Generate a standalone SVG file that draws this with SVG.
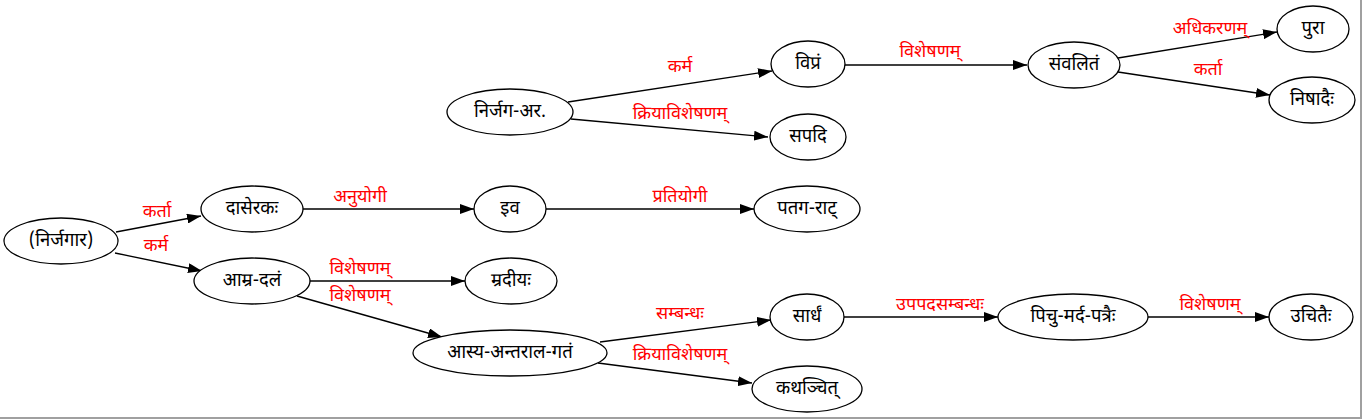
<svg xmlns="http://www.w3.org/2000/svg" width="1362" height="419" viewBox="0 0 1362 419">
<style>
.n ellipse{fill:#fff;stroke:#000;stroke-width:1.3}
.n text{font-family:"Noto Sans Devanagari","Lohit Devanagari","FreeSans","Noto Sans","DejaVu Sans",sans-serif;font-size:18.5px;fill:#000;text-anchor:middle;dominant-baseline:central}
.e line{stroke:#000;stroke-width:1.3;marker-end:url(#ah)}
.e text{font-family:"Noto Sans Devanagari","Lohit Devanagari","FreeSans","Noto Sans","DejaVu Sans",sans-serif;font-size:18px;fill:#ff0000;text-anchor:middle;dominant-baseline:central}
</style>
<defs>
<marker id="ah" markerUnits="userSpaceOnUse" markerWidth="14" markerHeight="10" refX="14" refY="5" orient="auto">
<path d="M0,0 L14,5 L0,10 z" fill="#000"/>
</marker>
</defs>
<rect x="0" y="0" width="1362" height="419" fill="#fff"/>
<g id="connectors" class="e">
<line x1="116" y1="232" x2="201" y2="216"/><text x="157" y="212">कर्ता</text>
<line x1="115" y1="253" x2="202" y2="271"/><text x="156" y="246">कर्म</text>
<line x1="303" y1="209" x2="474" y2="209"/><text x="360" y="197">अनुयोगी</text>
<line x1="546" y1="209" x2="754" y2="209"/><text x="680" y="197">प्रतियोगी</text>
<line x1="310" y1="281" x2="465" y2="281"/><text x="360" y="269">विशेषणम्</text>
<line x1="297" y1="296" x2="442" y2="337"/><text x="360" y="296">विशेषणम्</text>
<line x1="600" y1="342" x2="771" y2="320"/><text x="680" y="314">सम्बन्धः</text>
<line x1="598" y1="363" x2="752" y2="383"/><text x="680" y="355">क्रियाविशेषणम्</text>
<line x1="844" y1="317" x2="998" y2="317"/><text x="940" y="305">उपपदसम्बन्धः</text>
<line x1="1148" y1="317" x2="1269" y2="317"/><text x="1210" y="305">विशेषणम्</text>
<line x1="568" y1="102" x2="772" y2="71"/><text x="680" y="67">कर्म</text>
<line x1="571" y1="119" x2="768" y2="137"/><text x="680" y="114">क्रियाविशेषणम्</text>
<line x1="844" y1="65" x2="1027" y2="65"/><text x="930" y="52">विशेषणम्</text>
<line x1="1118" y1="58" x2="1277" y2="32"/><text x="1210" y="29">अधिकरणम्</text>
<line x1="1118" y1="72" x2="1270" y2="95"/><text x="1208" y="70">कर्ता</text>
</g>
<g id="n1" class="n"><ellipse cx="61" cy="241" rx="57" ry="23"/><text x="61" y="241">(निर्जगार)</text></g>
<g id="n2" class="n"><ellipse cx="252" cy="209" rx="51" ry="23"/><text x="252" y="209">दासेरकः</text></g>
<g id="n3" class="n"><ellipse cx="252" cy="281" rx="58" ry="23"/><text x="252" y="281">आम्र-दलं</text></g>
<g id="n4" class="n"><ellipse cx="510" cy="209" rx="36" ry="23"/><text x="510" y="209">इव</text></g>
<g id="n5" class="n"><ellipse cx="807" cy="209" rx="53" ry="23"/><text x="807" y="209">पतग-राट्</text></g>
<g id="n6" class="n"><ellipse cx="511" cy="281" rx="46" ry="23"/><text x="511" y="281">म्रदीयः</text></g>
<g id="n7" class="n"><ellipse cx="510" cy="353" rx="97" ry="23"/><text x="510" y="353">आस्य-अन्तराल-गतं</text></g>
<g id="n8" class="n"><ellipse cx="807" cy="317" rx="37" ry="23"/><text x="807" y="317">सार्धं</text></g>
<g id="n9" class="n"><ellipse cx="807" cy="389" rx="55" ry="23"/><text x="807" y="389">कथञ्चित्</text></g>
<g id="n10" class="n"><ellipse cx="1073" cy="317" rx="75" ry="23"/><text x="1073" y="317">पिचु-मर्द-पत्रैः</text></g>
<g id="n11" class="n"><ellipse cx="1311" cy="317" rx="42" ry="23"/><text x="1311" y="317">उचितैः</text></g>
<g id="n12" class="n"><ellipse cx="510" cy="112" rx="63" ry="23"/><text x="510" y="112">निर्जग-अर.</text></g>
<g id="n13" class="n"><ellipse cx="808" cy="64" rx="37" ry="23"/><text x="808" y="64">विप्रं</text></g>
<g id="n14" class="n"><ellipse cx="808" cy="137" rx="38" ry="23"/><text x="808" y="137">सपदि</text></g>
<g id="n15" class="n"><ellipse cx="1074" cy="65" rx="46" ry="23"/><text x="1074" y="65">संवलितं</text></g>
<g id="n16" class="n"><ellipse cx="1313" cy="29" rx="36" ry="23"/><text x="1313" y="29">पुरा</text></g>
<g id="n17" class="n"><ellipse cx="1312" cy="100" rx="43" ry="23"/><text x="1312" y="100">निषादैः</text></g>
<g id="frame"><line x1="0" y1="418" x2="1362" y2="418" stroke="#a0a0a0" stroke-width="2"/><line x1="1361" y1="0" x2="1361" y2="419" stroke="#a0a0a0" stroke-width="2"/></g>
</svg>
